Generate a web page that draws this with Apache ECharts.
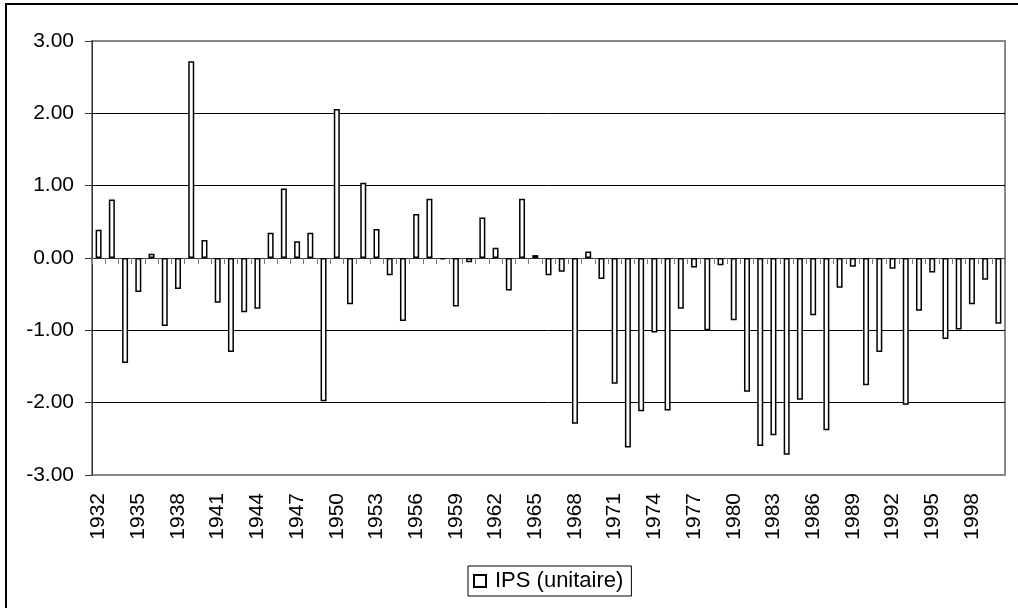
<!DOCTYPE html>
<html>
<head>
<meta charset="utf-8">
<script src="https://cdn.jsdelivr.net/npm/echarts@6/dist/echarts.min.js"></script>
<style>
  html, body { margin: 0; padding: 0; background: #fff; }
  #chart { width: 1018px; height: 608px; }
</style>
</head>
<body>
<div id="chart"></div>
<script>
// années 1932 - 2000
var years = [];
for (var y = 1932; y <= 2000; y++) years.push(String(y));

// IPS (unitaire)
var ips = [
  0.39, 0.81, -1.45, -0.47, 0.06, -0.94, -0.43, 2.72, 0.25, -0.62,
  -1.30, -0.75, -0.70, 0.35, 0.96, 0.23, 0.35, -1.98, 2.06, -0.64,
  1.04, 0.40, -0.24, -0.87, 0.61, 0.82, -0.02, -0.67, -0.06, 0.56,
  0.14, -0.45, 0.82, 0.04, -0.24, -0.19, -2.29, 0.09, -0.29, -1.74,
  -2.62, -2.12, -1.03, -2.11, -0.70, -0.13, -1.00, -0.10, -0.86, -1.85,
  -2.60, -2.45, -2.72, -1.96, -0.79, -2.38, -0.41, -0.12, -1.76, -1.30,
  -0.15, -2.03, -0.73, -0.20, -1.12, -0.99, -0.64, -0.30, -0.91
];

var seriesName = 'IPS (unitaire)';
var font = "'Liberation Sans', Arial, sans-serif";

var chart = echarts.init(document.getElementById('chart'));

var option = {
  animation: false,
  backgroundColor: '#fff',
  textStyle: { fontFamily: font },
  graphic: [{
    type: 'polyline',
    shape: { points: [[6, 610], [6, 4], [1018, 4]] },
    style: { stroke: '#000', lineWidth: 2, fill: null }
  }],
  grid: {
    left: 92,
    top: 41,
    right: 13,
    bottom: 133,
    show: true,
    borderColor: '#888',
    borderWidth: 2
  },
  legend: {
    data: [seriesName],
    left: 468,
    top: 566,
    icon: 'rect',
    itemWidth: 12,
    itemHeight: 12,
    itemStyle: { borderWidth: 2 },
    padding: [4, 8, 4, 5],
    borderColor: '#000',
    borderWidth: 1,
    textStyle: { fontSize: 22, color: '#000', fontFamily: font, padding: [0, 0, 0, 4] }
  },
  xAxis: [{
    // axe au zéro, seulement les graduations
    type: 'category',
    data: years,
    position: 'bottom',
    axisLine: { onZero: true, lineStyle: { color: '#333', width: 1 } },
    axisTick: { show: true, interval: 0, length: 6, lineStyle: { color: '#777' } },
    axisLabel: { show: false },
    splitLine: { show: false }
  }, {
    // étiquettes en bas
    type: 'category',
    data: years,
    position: 'bottom',
    axisLine: { show: false, onZero: false },
    axisTick: { show: false },
    axisLabel: {
      interval: 2,
      rotate: 90,
      margin: 18,
      fontSize: 21,
      color: '#000',
      fontFamily: font
    },
    splitLine: { show: false }
  }],
  yAxis: {
    type: 'value',
    min: -3,
    max: 3,
    interval: 1,
    axisLine: { show: true, lineStyle: { color: '#333', width: 1 } },
    axisTick: { show: true, length: 7, lineStyle: { color: '#333' } },
    axisLabel: {
      margin: 18,
      fontSize: 21,
      color: '#000',
      fontFamily: font,
      formatter: function (v) { return v.toFixed(2); }
    },
    splitLine: {
      lineStyle: {
        color: ['#888', '#000', '#000', '#000', '#000', '#000', '#888'],
        width: 1
      }
    }
  },
  series: [{
    name: seriesName,
    type: 'bar',
    xAxisIndex: 0,
    data: ips,
    barWidth: 6,
    itemStyle: { color: '#fff', borderColor: '#000', borderWidth: 1.5 }
  }]
};

chart.setOption(option);
</script>
</body>
</html>
